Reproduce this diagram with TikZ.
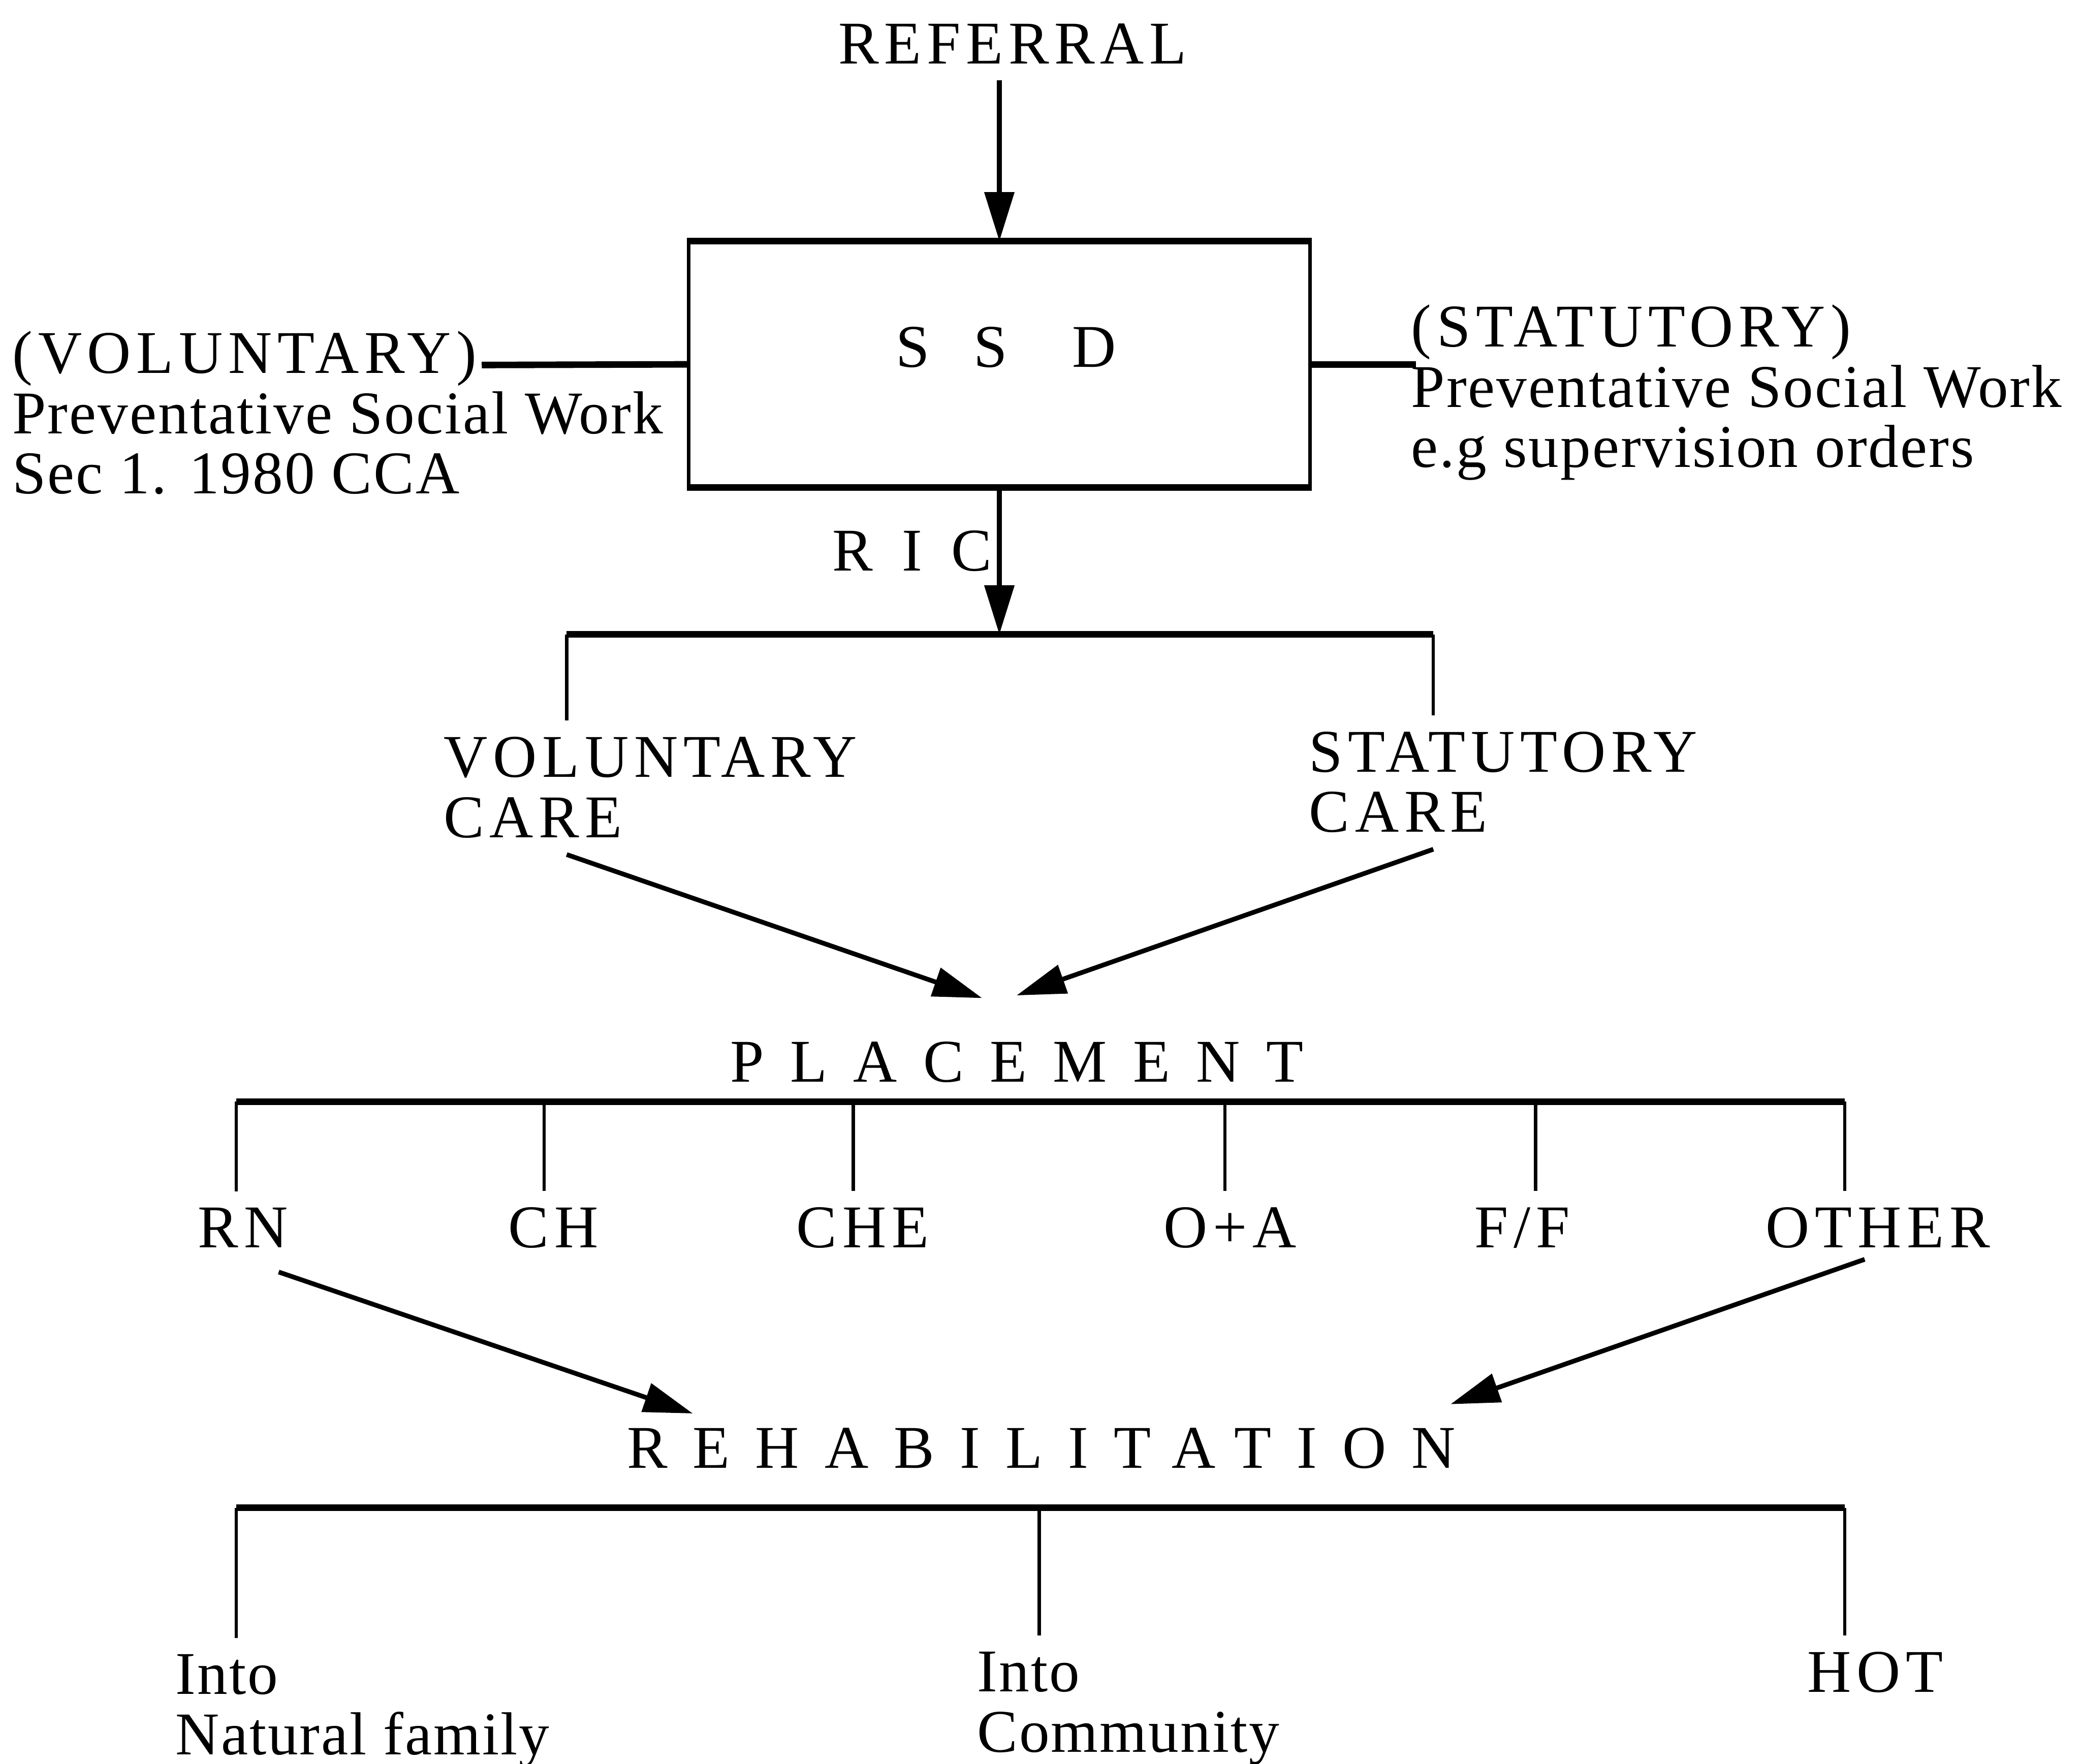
\documentclass[tikz,border=0pt]{standalone}
\usepackage{fontspec}
\setmainfont{Liberation Serif}[LetterSpace=2.5]
\usetikzlibrary{arrows.meta}
\newcommand{\wcaps}[1]{{\addfontfeatures{LetterSpace=9}#1}}
\begin{document}
\begin{tikzpicture}[x=0.01cm,y=-0.01cm,
  every node/.style={font=\fontsize{13}{12.9}\selectfont},
  lbl/.style={align=left, anchor=base west},
  caps/.style={font=\fontsize{13}{12.9}\selectfont\addfontfeatures{LetterSpace=9}},
  heavy/.style={line width=1.4pt},
  lite/.style={line width=0.7pt},
  arr/.style={line width=1pt,-{Triangle[length=0.37cm,width=0.22cm]}},
  spaced/.style={font=\fontsize{13}{12.9}\selectfont\addfontfeatures{LetterSpace=#1}, anchor=base west}
]
\useasboundingbox (0,0) rectangle (1568,1329);

% top
\node[caps, anchor=base] (ref) at (763,48) {REFERRAL};
\node[draw, lite, minimum width=4.68cm, minimum height=1.83cm, inner sep=0] (ssd) at (753,274.5)
  {\raisebox{0.13cm}[0.3cm][0pt]{\hspace{0.1cm}S\hspace{0.33cm}S\hspace{0.49cm}D}};
\draw[heavy] (ssd.north west) -- (ssd.north east);
\draw[heavy] (ssd.south west) -- (ssd.south east);
\draw[arr] (ref.south -| ssd.north) -- (ssd.north);

\node[lbl] (vol) at (-3,372) {\wcaps{(VOLUNTARY)}\\Preventative Social Work\\Sec 1. 1980 CCA};
\node[lbl] (stat) at (1051,352) {\wcaps{(STATUTORY)}\\Preventative Social Work\\e.g supervision orders};
\coordinate (volend) at (363,275);
\coordinate (statend) at (1067,274.5);
\draw[heavy] (ssd.west) -- (volend);
\draw[heavy] (ssd.east) -- (statend);

% RIC
\node[spaced=48] (ric) at (615,430) {RIC};
\coordinate (ricbar) at (753,478);
\coordinate (bl) at (427,478);
\coordinate (br) at (1080,478);
\draw[arr] (ssd.south) -- (ricbar);
\draw[heavy] (bl) -- (br);

\node[lbl, caps] (volcare) at (322,631) {VOLUNTARY\\CARE};
\node[lbl, caps] (statcare) at (974,627) {STATUTORY\\CARE};
\draw[lite] (bl) -- (bl |- volcare.north);
\draw[lite] (br) -- (br |- statcare.north);

% placement
\node[spaced=43] (plac) at (538,815) {PLACEMENT};
\coordinate (plL) at (740,752);
\coordinate (plR) at (766,750);
\draw[arr] (volcare.south -| bl) -- (plL);
\draw[arr] (statcare.south -| br) -- (plR);

\coordinate (p1) at (178,830);
\coordinate (p2) at (410,830);
\coordinate (p3) at (643,830);
\coordinate (p4) at (923,830);
\coordinate (p5) at (1157,830);
\coordinate (p6) at (1390,830);
\draw[heavy] (p1) -- (p6);

\node[caps, anchor=base] (rn) at (183,940) {RN};
\node[caps, anchor=base] (ch) at (417,940) {CH};
\node[caps, anchor=base] (che) at (650,940) {CHE};
\node[caps, anchor=base] (oa) at (927,940) {O+A};
\node[caps, anchor=base] (ff) at (1147,940) {F/F};
\node[caps, anchor=base] (other) at (1415,940) {OTHER};
\draw[lite] (p1) -- (p1 |- rn.north);
\draw[lite] (p2) -- (p2 |- ch.north);
\draw[lite] (p3) -- (p3 |- che.north);
\draw[lite] (p4) -- (p4 |- oa.north);
\draw[lite] (p5) -- (p5 |- ff.north);
\draw[lite] (p6) -- (p6 |- other.north);

% rehabilitation
\node[spaced=42] (rehab) at (460,1106) {REHABILITATION};
\coordinate (rhL) at (522,1065);
\coordinate (rhR) at (1093,1058);
\draw[arr] ([shift={(27,6)}]rn.south) -- (rhL);
\draw[arr] ([shift={(-10,-4)}]other.south) -- (rhR);

\coordinate (r1) at (178,1136);
\coordinate (r2) at (783,1136);
\coordinate (r3) at (1390,1136);
\draw[heavy] (r1) -- (r3);

\node[lbl] (fam) at (120,1322) {Into\\Natural family};
\node[lbl] (com) at (724,1320) {Into\\Community};
\node[caps, anchor=base] (hot) at (1413,1275) {HOT};
\draw[lite] (r1) -- (r1 |- fam.north);
\draw[lite] (r2) -- (r2 |- com.north);
\draw[lite] (r3) -- (r3 |- hot.north);
\end{tikzpicture}
\end{document}
